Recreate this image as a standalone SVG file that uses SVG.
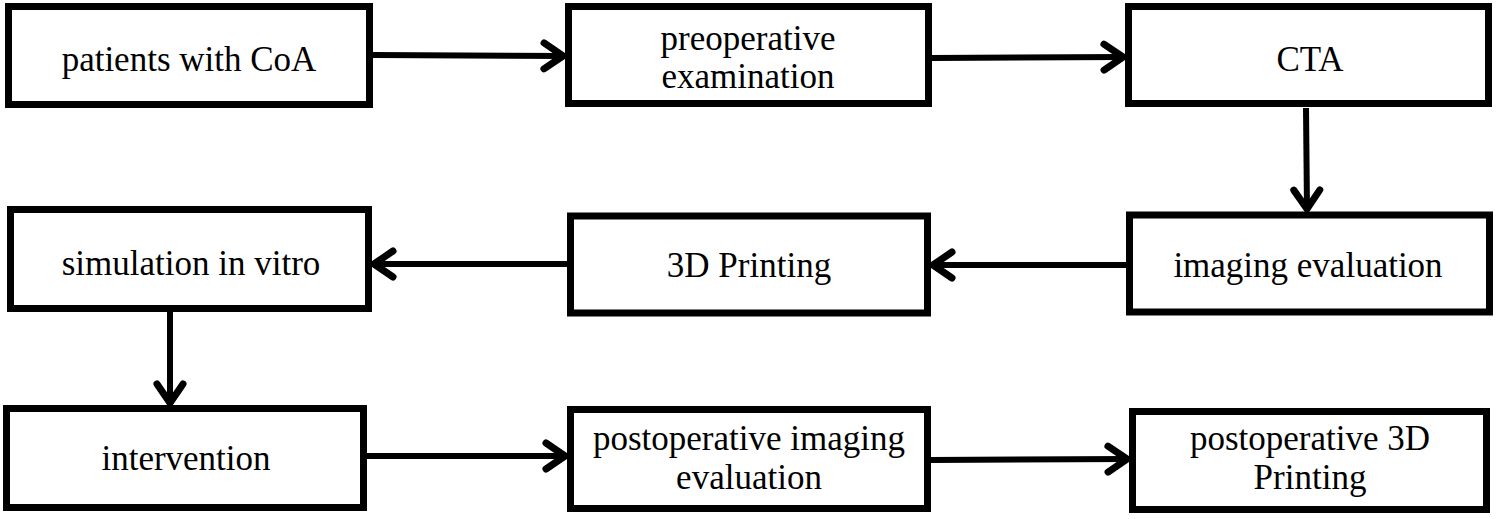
<svg xmlns="http://www.w3.org/2000/svg" width="1499" height="519" viewBox="0 0 1499 519">
<style>
.box{fill:#fff;stroke:#000;stroke-width:7}
.t{font-family:"Liberation Serif","Times New Roman",serif;font-size:35px;fill:#000;text-anchor:middle}
.c{fill:none;stroke:#000;stroke-width:6}
</style>
<defs>
<marker id="arr" markerUnits="userSpaceOnUse" markerWidth="40" markerHeight="40" refX="0" refY="0" viewBox="-30 -20 40 40" orient="auto" overflow="visible">
<path d="M-20,-13 L-1,0 L-20,13" fill="none" stroke="#000" stroke-width="7" stroke-linecap="round" stroke-linejoin="round"/>
</marker>
</defs>
<rect width="1499" height="519" fill="#fff"/>
<g id="connectors">
<line class="c" x1="373" y1="55" x2="564" y2="56" marker-end="url(#arr)"/>
<line class="c" x1="932" y1="58" x2="1124" y2="57" marker-end="url(#arr)"/>
<line class="c" x1="1306" y1="108" x2="1307" y2="210" marker-end="url(#arr)"/>
<line class="c" x1="1126" y1="265" x2="932" y2="265" marker-end="url(#arr)"/>
<line class="c" x1="567" y1="264" x2="373" y2="264" marker-end="url(#arr)"/>
<line class="c" x1="170" y1="312" x2="170" y2="404" marker-end="url(#arr)"/>
<line class="c" x1="366" y1="456" x2="566" y2="456" marker-end="url(#arr)"/>
<line class="c" x1="931" y1="460" x2="1128" y2="459" marker-end="url(#arr)"/>
</g>
<g id="n1"><rect class="box" x="8.5" y="6.5" width="361" height="98"/><text class="t" x="189" y="71">patients with CoA</text></g>
<g id="n2"><rect class="box" x="568.5" y="6.5" width="360" height="97"/><text class="t" x="748" y="50">preoperative</text><text class="t" x="748" y="88">examination</text></g>
<g id="n3"><rect class="box" x="1128.5" y="6.5" width="360" height="97"/><text class="t" x="1310" y="71">CTA</text></g>
<g id="n4"><rect class="box" x="1129.5" y="215" width="360" height="97"/><text class="t" x="1308" y="277">imaging evaluation</text></g>
<g id="n5"><rect class="box" x="570.5" y="216" width="357" height="97"/><text class="t" x="749" y="277">3D Printing</text></g>
<g id="n6"><rect class="box" x="10.5" y="209.5" width="358" height="99"/><text class="t" x="191" y="275">simulation in vitro</text></g>
<g id="n7"><rect class="box" x="6.5" y="408.5" width="357" height="99"/><text class="t" x="186" y="470">intervention</text></g>
<g id="n8"><rect class="box" x="570.5" y="409.5" width="357" height="99"/><text class="t" x="749" y="450">postoperative imaging</text><text class="t" x="749" y="489">evaluation</text></g>
<g id="n9"><rect class="box" x="1132.5" y="411.5" width="354" height="98"/><text class="t" x="1310" y="450">postoperative 3D</text><text class="t" x="1310" y="489">Printing</text></g>
</svg>
